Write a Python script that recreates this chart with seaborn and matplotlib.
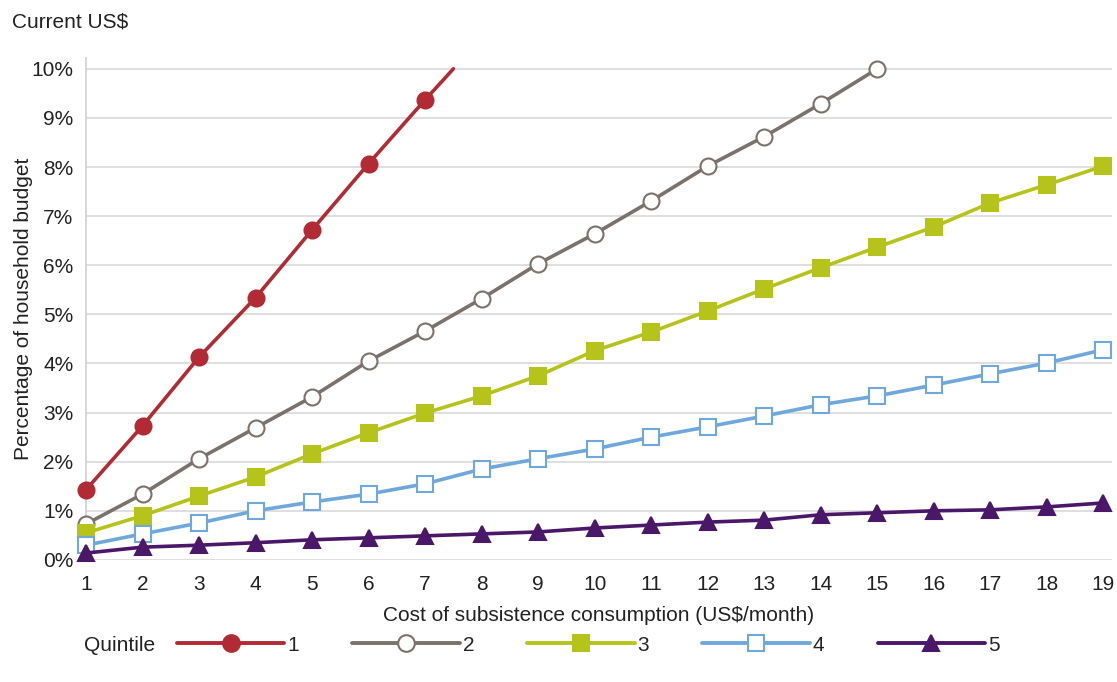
import numpy as np
import pandas as pd
import matplotlib
matplotlib.use("Agg")
import matplotlib.pyplot as plt
import seaborn as sns

# datos (porcentaje del presupuesto del hogar)
cost = list(range(1, 20))
q1_x = [1, 2, 3, 4, 5, 6, 7, 7.5]
q1 = [1.43, 2.73, 4.13, 5.34, 6.72, 8.07, 9.37, 10.0]
q2_x = list(range(1, 16))
q2 = [0.73, 1.34, 2.06, 2.69, 3.32, 4.05, 4.66, 5.32, 6.03, 6.64, 7.31, 8.02, 8.62, 9.29, 10.0]
q3 = [0.55, 0.90, 1.30, 1.69, 2.16, 2.59, 2.99, 3.34, 3.75, 4.26, 4.64, 5.07, 5.52, 5.95, 6.37, 6.78, 7.27, 7.64, 8.02]
q4 = [0.30, 0.53, 0.75, 1.00, 1.18, 1.34, 1.55, 1.85, 2.06, 2.26, 2.50, 2.71, 2.93, 3.16, 3.34, 3.56, 3.79, 4.01, 4.28]
q5 = [0.14, 0.26, 0.30, 0.35, 0.41, 0.45, 0.49, 0.53, 0.57, 0.65, 0.71, 0.77, 0.81, 0.92, 0.96, 1.00, 1.02, 1.08, 1.16]

quintiles = ['1', '2', '3', '4', '5']
colores = ['#B22A33', '#7B726B', '#B5C31B', '#6FA8DC', '#4B1869']

sns.set_style("white")
plt.rcParams['font.family'] = ['Liberation Sans', 'DejaVu Sans']
fs = 15

fig = plt.figure(figsize=(11.17, 6.82), dpi=100)
ax = fig.add_axes([0.077, 0.179, 0.9185, 0.736])

series = [
    (q1_x, q1, 'o', colores[0], colores[0], list(range(7))),
    (q2_x, q2, 'o', colores[1], 'white', None),
    (cost, q3, 's', colores[2], colores[2], None),
    (cost, q4, 's', colores[3], 'white', None),
    (cost, q5, '^', colores[4], colores[4], None),
]

handles = []
for (xs, ys, m, c, fc, mk), lab in zip(series, quintiles):
    df = pd.DataFrame({'x': xs, 'y': ys})
    ms = 11.5 if m != 's' else 11
    sns.lineplot(data=df, x='x', y='y', ax=ax, color=c, linewidth=2.6,
                 marker=m, markersize=ms,
                 markerfacecolor=fc, markeredgecolor=c, markeredgewidth=1.5,
                 markevery=mk, label=lab, legend=False, clip_on=False,
                 zorder=3)
    handles.append(plt.Line2D([], [], color=c, linewidth=2.8, marker=m,
                              markersize=ms + 0.5, markerfacecolor=fc,
                              markeredgecolor=c, markeredgewidth=1.5))

ax.set_xlim(1, 19.15)
ax.set_ylim(0, 10.22)
ax.set_xticks(cost)
ax.set_yticks(range(0, 11))
ax.set_yticklabels([f'{i}%' for i in range(0, 11)])
ax.grid(axis='y', color='#D9D9D9', linewidth=1.2)
ax.set_axisbelow(True)
for s in ['top', 'right', 'bottom']:
    ax.spines[s].set_visible(False)
ax.spines['left'].set_color('#D0D0D0')
ax.spines['left'].set_linewidth(1.2)
ax.tick_params(axis='both', colors='#C8C8C8', labelcolor='#222222',
               labelsize=fs, width=1.2, direction='out')
ax.tick_params(axis='y', length=7, pad=2)
ax.tick_params(axis='x', length=5.5, pad=5)

ax.set_xlabel('Cost of subsistence consumption (US$/month)', fontsize=fs,
              color='#222222', labelpad=9)
ax.set_ylabel('Percentage of household budget', fontsize=fs,
              color='#222222')
ax.yaxis.set_label_coords(-0.0614, 0.5)
ax.yaxis.label.set_va('center')

fig.text(0.011, 0.968, 'Current US$', fontsize=fs, color='#222222', va='center')
fig.text(0.075, 0.054, 'Quintile', fontsize=fs, color='#222222', va='center')

fig.legend(handles, quintiles, loc='center left', bbox_to_anchor=(0.1585, 0.054),
           ncol=5, frameon=False, fontsize=fs, handlelength=5.15,
           handletextpad=0.15, columnspacing=2.55, borderpad=0,
           borderaxespad=0)

fig.savefig('out.png', dpi=100)
